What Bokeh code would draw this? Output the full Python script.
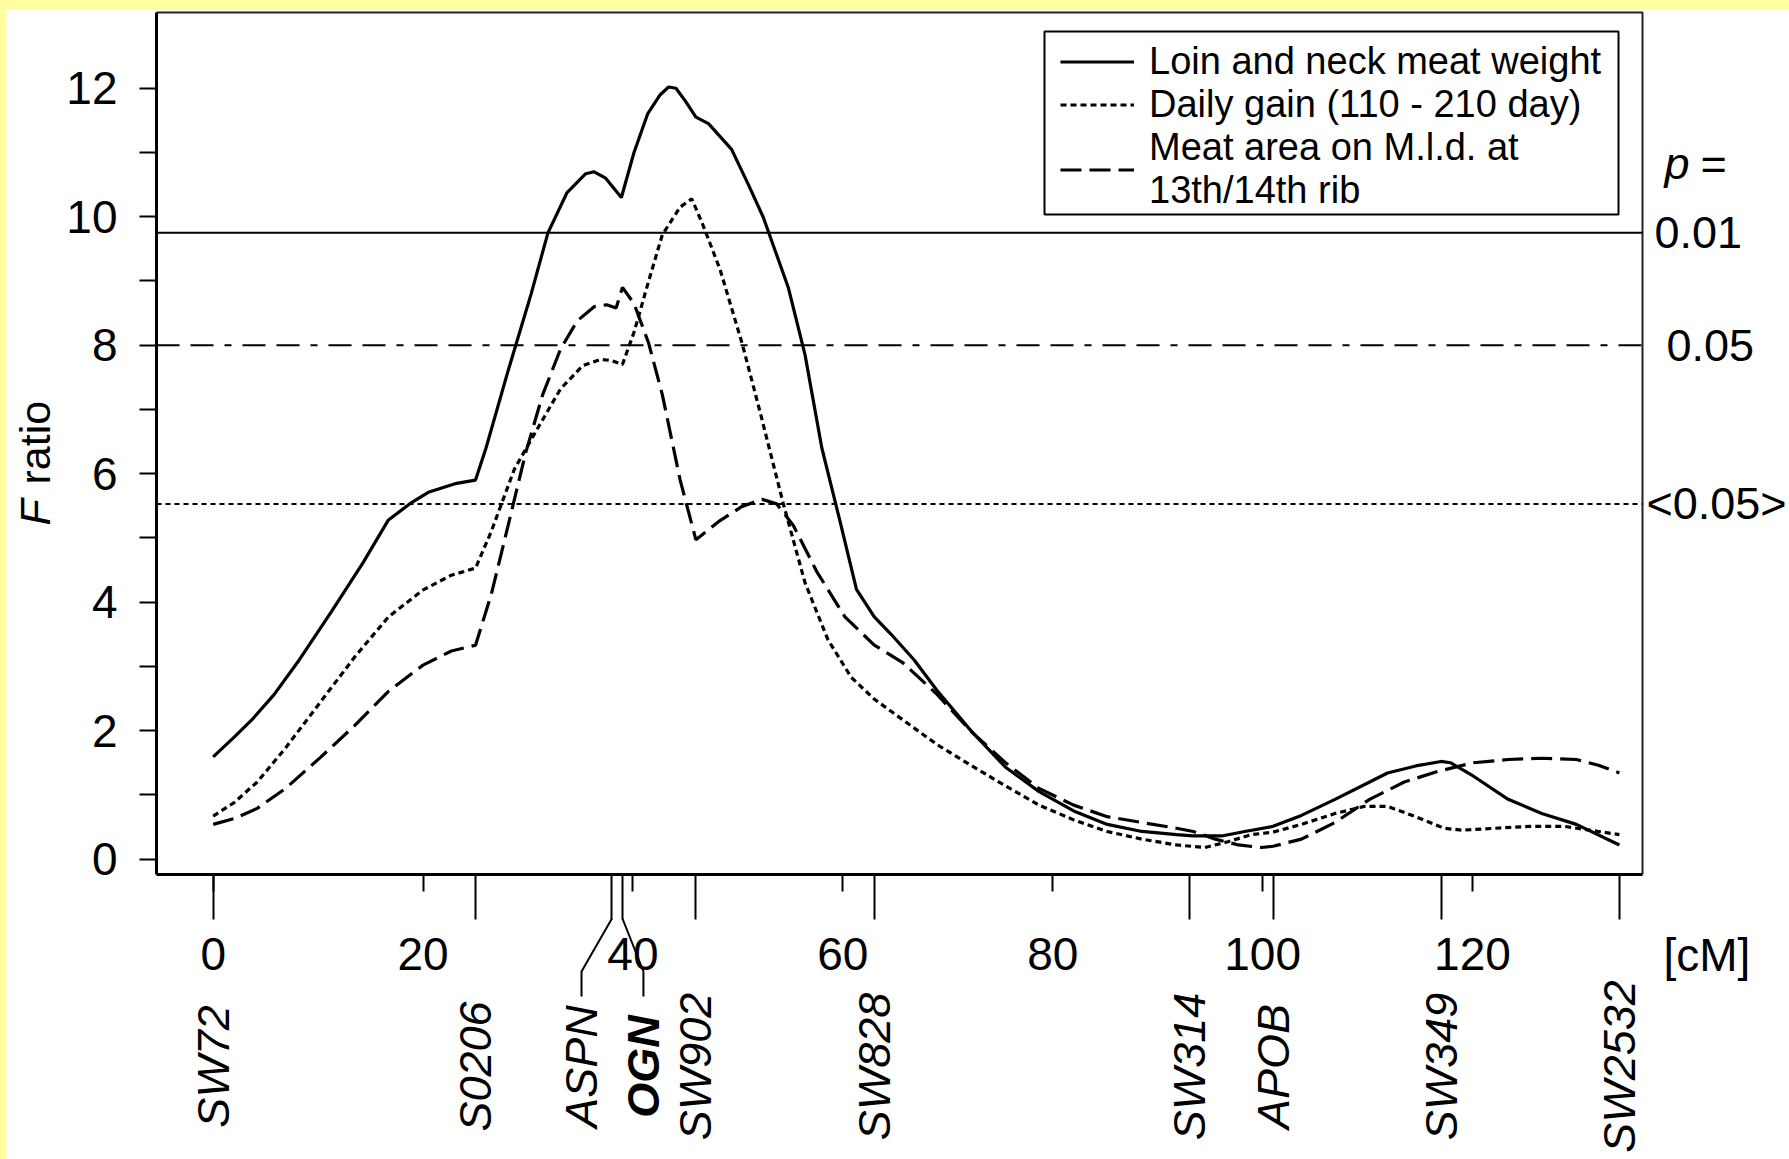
import math

from bokeh.core.properties import value
from bokeh.embed import file_html
from bokeh.layouts import column
from bokeh.models import FixedTicker, Legend, LegendItem, LinearAxis, Range1d
from bokeh.plotting import figure
from bokeh.resources import INLINE

# ---------------------------------------------------------------- data
# F ratio profiles along the chromosome (position in cM)
loin_cm = [0, 2, 3.7, 5.8, 8.2, 11.3, 14.3, 16.7, 18.9, 20.5, 23.2, 25, 26, 28.1, 30.3,
           31.9, 33.7, 35.5, 36.3, 37.4, 38.9, 40.1, 41.4, 42.6, 43.4, 44.1, 45, 46, 47.2,
           49.4, 51, 52.4, 54.8, 56.4, 58, 59.7, 61.3, 63, 64.6, 66.8, 69, 72.2, 75.5, 78.7,
           82, 85.2, 88.5, 91.8, 93.4, 96.1, 98.3, 101, 103.7, 106.9, 110.2, 111.9, 114.6,
           117, 117.9, 120.1, 123.4, 126.6, 129.9, 134]
loin_f = [1.59, 1.9, 2.17, 2.56, 3.1, 3.86, 4.62, 5.28, 5.55, 5.71, 5.85, 5.9, 6.4, 7.6, 8.8,
          9.75, 10.37, 10.67, 10.7, 10.6, 10.3, 11.0, 11.6, 11.9, 12.02, 12.0, 11.8, 11.55, 11.45,
          11.05, 10.5, 10.0, 8.9, 7.85, 6.4, 5.28, 4.2, 3.77, 3.5, 3.1, 2.62, 2.0, 1.43, 1.05,
          0.75, 0.54, 0.43, 0.38, 0.36, 0.36, 0.43, 0.51, 0.68, 0.93, 1.2, 1.34, 1.45,
          1.52, 1.5, 1.29, 0.93, 0.71, 0.54, 0.22]

gain_cm = [0, 2, 4.2, 6.9, 10.2, 13.5, 16.7, 20, 22.7, 25, 26.5, 28.7, 30.9, 33.1, 35.2, 36.9,
           38, 39, 40.1, 41.5, 42.8, 44.5, 45.6, 46.6, 48.3, 50.4, 52.1, 54.3, 56.4, 58.6, 60.8,
           63, 65.7, 69, 72.2, 75.5, 78.7, 82, 85.2, 88.5, 91.8, 94.5, 96.7, 98.9, 101, 103.7,
           106.9, 109.7, 111.9, 114.6, 117.3, 119, 122.2, 125.5, 128.7, 132, 134]
gain_f = [0.67, 0.88, 1.2, 1.73, 2.44, 3.15, 3.77, 4.19, 4.42, 4.53, 5.1, 6.07, 6.7, 7.32, 7.68, 7.78,
          7.76, 7.7, 8.2, 9.0, 9.72, 10.15, 10.28, 9.9, 9.18, 8.03, 6.97, 5.55, 4.3, 3.41, 2.83,
          2.49, 2.17, 1.78, 1.46, 1.14, 0.84, 0.61, 0.43, 0.31, 0.22, 0.18, 0.27, 0.38, 0.42, 0.54,
          0.71, 0.82, 0.82, 0.66, 0.48, 0.45, 0.48, 0.51, 0.51, 0.43, 0.38]

area_cm = [0, 2, 4.2, 6.9, 10.2, 13.5, 16.7, 20, 22.7, 25, 26.5, 28.1, 29.8, 31.4, 33.1, 34.7,
           36.3, 37.5, 38.4, 39, 40.1, 41.5, 42.8, 44.5, 46, 48.3, 50.4, 52.3, 53.7, 55.3, 57.5,
           60.2, 63, 65.7, 69, 72.2, 75.5, 78.7, 82, 85.2, 88.5, 91.8, 93.4, 95.5, 97.7, 99.9,
           101, 103.7, 106.9, 110.2, 113.5, 116.8, 120.1, 123.4, 126.6, 129.9, 132, 134]
area_f = [0.54, 0.63, 0.79, 1.1, 1.58, 2.08, 2.61, 3.02, 3.24, 3.33, 4.12, 5.19, 6.34, 7.23, 7.94, 8.38,
          8.6, 8.63, 8.58, 8.9, 8.65, 8.03, 7.23, 5.9, 4.97, 5.27, 5.49, 5.6, 5.53, 5.19, 4.48,
          3.77, 3.33, 3.06, 2.56, 1.99, 1.5, 1.1, 0.84, 0.66, 0.57, 0.48, 0.43, 0.31, 0.22, 0.18,
          0.2, 0.31, 0.57, 0.93, 1.2, 1.37, 1.5, 1.55, 1.57, 1.55, 1.46, 1.34]

series_names = ["Loin and neck meat weight",
                "Daily gain (110 - 210 day)",
                "Meat area on M.l.d. at\n13th/14th rib"]

# significance thresholds (F ratio) and their p labels
threshold_f = [9.75, 8.0, 5.53]
threshold_p = ["0.01", "0.05", "<0.05>"]

# map markers and genes (cM)
marker_names = ["SW72", "S0206", "ASPN", "OGN", "SW902", "SW828", "SW314", "APOB", "SW349", "SW2532"]
marker_cm = [0, 25, 38, 39, 46, 63, 93, 101, 117, 134]
marker_bold = ["OGN"]

x_ticks = [0, 20, 40, 60, 80, 100, 120]
y_ticks = [0, 2, 4, 6, 8, 10, 12]
y_minor = [1, 3, 5, 7, 9, 11]

# ---------------------------------------------------------------- page geometry
PAGE_W, PAGE_H = 1789, 1159
PAD_TOP, PAD_LEFT = 9, 6
BOX_L, BOX_R, BOX_T, BOX_B = 156, 1642, 12, 874      # plot box on the page
X_START, X_END = -5.4, 136.2                          # data limits of the plot box
Y_START, Y_END = -0.24, 13.18
FONT = "Liberation Sans"
YELLOW = "#FFFFA0"


def px_x(px):
    return X_START + (px - BOX_L) * (X_END - X_START) / (BOX_R - BOX_L)


def px_y(py):
    return Y_END - (py - BOX_T) * (Y_END - Y_START) / (BOX_B - BOX_T)


# the frame fills the whole canvas; the plot box is drawn inside it
p = figure(width=PAGE_W - PAD_LEFT, height=PAGE_H - PAD_TOP,
           x_range=Range1d(px_x(PAD_LEFT), px_x(PAGE_W)),
           y_range=Range1d(px_y(PAGE_H), px_y(PAD_TOP)),
           x_axis_type=None, y_axis_type=None,
           output_backend="svg", toolbar_location=None,
           min_border=0)
p.margin = (PAD_TOP, 0, 0, PAD_LEFT)
p.background_fill_color = "white"
p.border_fill_color = "white"
p.outline_line_color = None
p.grid.visible = False

# ---------------------------------------------------------------- axes
yax = LinearAxis(fixed_location=X_START, bounds=(Y_START, Y_END),
                 ticker=FixedTicker(ticks=y_ticks, minor_ticks=y_minor))
yax.major_tick_out = 17
yax.minor_tick_out = 17
yax.major_label_standoff = 22

xax = LinearAxis(fixed_location=Y_START, bounds=(X_START, X_END),
                 ticker=FixedTicker(ticks=x_ticks, minor_ticks=marker_cm))
xax.major_tick_out = 17
xax.minor_tick_out = 45
xax.major_label_standoff = 18

for ax in (yax, xax):
    ax.axis_line_width = 3
    ax.axis_line_color = "black"
    ax.major_tick_line_width = 2
    ax.minor_tick_line_width = 2
    ax.major_tick_in = 0
    ax.minor_tick_in = 0
    ax.major_label_text_font = FONT
    ax.major_label_text_font_size = "46px"
    ax.major_label_text_color = "black"
p.add_layout(yax, "left")
p.add_layout(xax, "below")

# top and right edges of the plot box
p.line([X_START, X_END, X_END], [Y_END, Y_END, Y_START], line_color="#222222", line_width=2)

# ---------------------------------------------------------------- thresholds
threshold_dash = ["solid", "23 11 23 11 7 11", "5 4"]
for f, dash in zip(threshold_f, threshold_dash):
    p.line([X_START, X_END], [f, f], line_color="black", line_width=2, line_dash=dash)

right_px = [1654, 1666, 1646]
p.text(x=[px_x(v) for v in right_px], y=threshold_f, text=threshold_p,
       text_font=value(FONT), text_font_size=value("45px"),
       text_baseline="middle", text_align="left", text_color="black")
p.text(x=[px_x(1664)], y=[px_y(163)], text=["p"], text_font=value(FONT),
       text_font_style=value("italic"), text_font_size=value("45px"),
       text_baseline="middle", text_color="black")
p.text(x=[px_x(1700)], y=[px_y(163)], text=["="], text_font=value(FONT),
       text_font_size=value("45px"), text_baseline="middle", text_color="black")

# ---------------------------------------------------------------- curves
r_loin = p.line(loin_cm, loin_f, line_color="black", line_width=3.2)
r_gain = p.line(gain_cm, gain_f, line_color="black", line_width=3.2, line_dash="6 4")
r_area = p.line(area_cm, area_f, line_color="black", line_width=3.2, line_dash="21 8")

# legend: framed box, items laid over it
p.quad(left=[px_x(1044)], right=[px_x(1618)], top=[px_y(31)], bottom=[px_y(214)],
       fill_color="white", line_color="black", line_width=2)

legend = Legend(items=[LegendItem(label=n, renderers=[r])
                       for n, r in zip(series_names, [r_loin, r_gain, r_area])],
                location=(1054, PAGE_H - 212))
legend.label_text_font = FONT
legend.label_text_font_size = "38px"
legend.label_text_color = "black"
legend.label_text_line_height = 0.9
legend.glyph_width = 74
legend.glyph_height = 43
legend.label_standoff = 15
legend.label_height = 43
legend.padding = 0
legend.spacing = 0
legend.margin = 0
legend.border_line_color = None
legend.background_fill_alpha = 0.0
p.add_layout(legend)

# ---------------------------------------------------------------- axis titles
p.text(x=[px_x(1663)], y=[px_y(954)], text=["[cM]"], text_font=value(FONT),
       text_font_size=value("46px"), text_baseline="middle", text_color="black")
p.text(x=[px_x(34)], y=[px_y(525)], text=["F"], text_font=value(FONT),
       text_font_style=value("italic"), text_font_size=value("43px"),
       text_baseline="middle", angle=math.pi / 2, text_color="black")
p.text(x=[px_x(34)], y=[px_y(484)], text=["ratio"], text_font=value(FONT),
       text_font_size=value("43px"), text_baseline="middle", angle=math.pi / 2,
       text_color="black")

# ---------------------------------------------------------------- marker labels and leads
label_shift = {"ASPN": -2.9, "OGN": 2.0}
label_x = [cm + label_shift.get(n, 0.0) for n, cm in zip(marker_names, marker_cm)]

lead_xs, lead_ys = [], []
for n, cm, lx in zip(marker_names, marker_cm, label_x):
    if n in label_shift:
        lead_xs.append([cm, lx, lx])
        lead_ys.append([px_y(918), px_y(971), px_y(996)])
p.multi_line(lead_xs, lead_ys, line_color="black", line_width=2)

label_y = px_y(1066)
for bold in (False, True):
    sel = [i for i, n in enumerate(marker_names) if (n in marker_bold) == bold]
    p.text(x=[label_x[i] for i in sel], y=[label_y] * len(sel),
           text=[marker_names[i] for i in sel], text_font=value(FONT),
           text_font_style=value("bold italic" if bold else "italic"),
           text_font_size=value("45px"), text_baseline="middle", text_align="center",
           angle=math.pi / 2, text_color="black")

page = column(p, styles={"background-color": YELLOW})

open("out.html", "w").write(file_html(page, INLINE))
